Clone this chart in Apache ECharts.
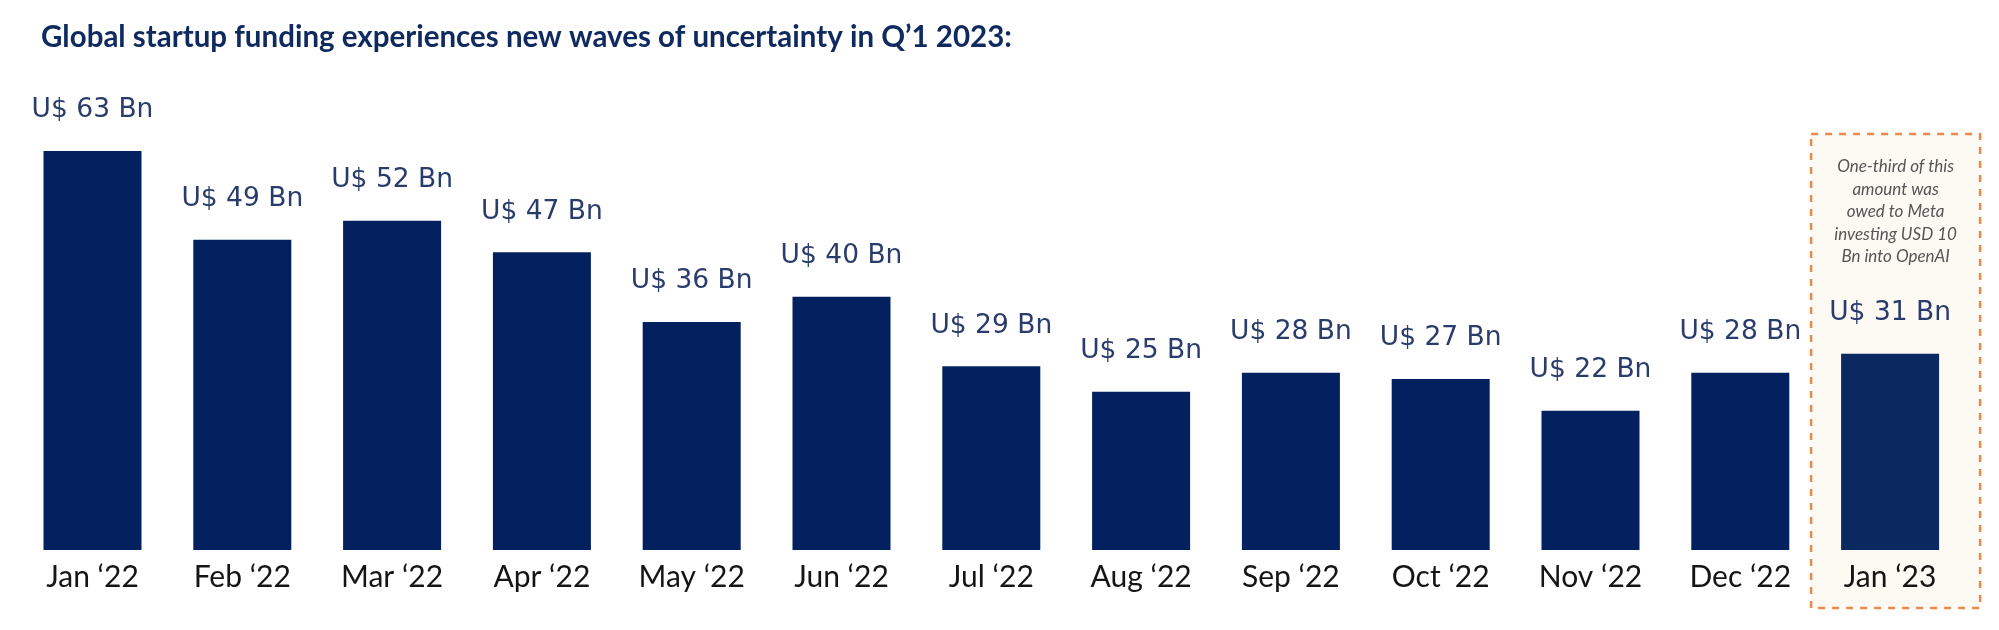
<!DOCTYPE html>
<html>
<head>
<meta charset="utf-8">
<script src="https://cdn.jsdelivr.net/npm/echarts@6/dist/echarts.min.js"></script>
<style>
html,body{margin:0;padding:0;background:#ffffff;}
#chart{width:1999px;height:630px;}
</style>
</head>
<body>
<div id="chart"></div>
<script>
const titleText = "Global startup funding experiences new waves of uncertainty in Q\u20191 2023:";
const categories = ["Jan \u201822","Feb \u201822","Mar \u201822","Apr \u201822","May \u201822","Jun \u201822","Jul \u201822","Aug \u201822","Sep \u201822","Oct \u201822","Nov \u201822","Dec \u201822","Jan \u201823"];
const values = [63, 49, 52, 47, 36, 40, 29, 25, 28, 27, 22, 28, 31];
const noteLines = ["One-third of this","amount was","owed to Meta","investing USD 10","Bn into OpenAI"];

const chart = echarts.init(document.getElementById('chart'), null, {renderer:'canvas'});
const barColor = '#03205f';
const lastColor = '#0b2960';

const option = {
  animation: false,
  backgroundColor: '#ffffff',
  title: {
    text: titleText,
    left: 36, top: 17,
    textStyle: {fontFamily: 'Lato', fontWeight: 'bold', fontSize: 29.5, color: '#0f2a5f'}
  },
  grid: {left: 17.6, right: 34, top: 550 - 70 * (399 / 63), bottom: 80, containLabel: false},
  xAxis: {
    type: 'category',
    data: categories,
    axisLine: {show: false},
    axisTick: {show: false},
    axisLabel: {fontFamily: 'Lato', fontSize: 30, color: '#151515', margin: 12}
  },
  yAxis: {
    type: 'value', min: 0, max: 70,
    show: false,
    splitLine: {show: false}
  },
  series: [{
    type: 'bar',
    z: 3,
    data: values.map((v, i) => ({value: v, itemStyle: {color: i === values.length - 1 ? lastColor : barColor}})),
    barWidth: 98,
    label: {
      show: true, position: 'top', distance: 27,
      formatter: p => 'U$ ' + p.value + ' Bn',
      fontFamily: 'DejaVu Sans', fontSize: 26.5, color: '#2a3c6c'
    }
  }]
};
chart.setOption(option);

const last = values.length - 1;
const p = chart.convertToPixel({seriesIndex: 0}, [last, 0]);
const cx = p[0];
const boxLeft = cx - 79, boxW = 169, boxTop = 134, boxBottom = 608;
const noteCx = boxLeft + boxW / 2;
const graphics = [{
  type: 'rect', z: 0,
  shape: {x: boxLeft, y: boxTop, width: boxW, height: boxBottom - boxTop},
  style: {fill: '#fdfaf4', stroke: '#e98a4c', lineWidth: 2.5, lineDash: [7, 7]}
}];
noteLines.forEach((t, i) => {
  graphics.push({
    type: 'text', z: 5,
    x: noteCx, y: 167 + i * 22.4,
    style: {text: t, fontFamily: 'Lato', fontStyle: 'italic', fontSize: 17, fill: '#555555', align: 'center', verticalAlign: 'middle'}
  });
});
chart.setOption({graphic: graphics});
</script>
</body>
</html>
